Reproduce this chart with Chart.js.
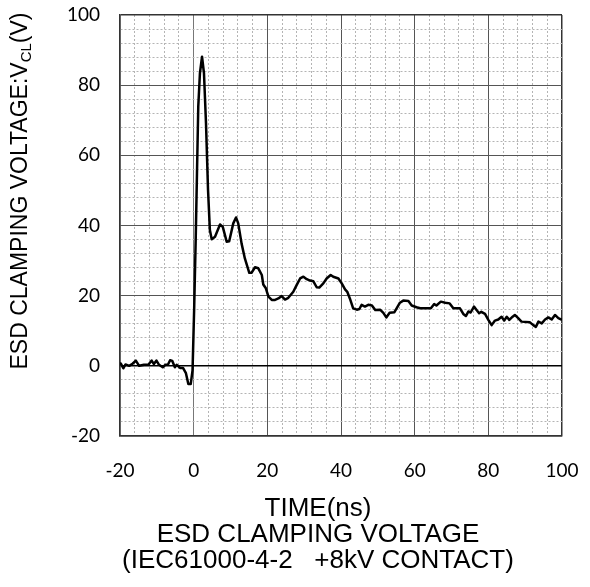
<!DOCTYPE html>
<html>
<head>
<meta charset="utf-8">
<script src="https://cdn.jsdelivr.net/npm/chart.js@4.4.1/dist/chart.umd.min.js"></script>
<style>
html,body{margin:0;padding:0;background:#fff;}
#wrap{width:590px;height:587px;}
</style>
</head>
<body>
<div id="wrap"><canvas id="chart"></canvas></div>
<script>
// time (ns) and clamping voltage (V)
const timeNs=[
-20.0,-19.8,-19.1,-18.5,-17.5,-16.6,-15.7,-14.8,-13.5,-12.3,-11.4,-10.8,-10.1,-9.4,-8.4,-7.7,-7.0,-6.4,-5.8,-5.1,-4.6,-3.7,-2.9,-2.1,-1.45,-0.8,-0.3,
0.15,0.55,0.9,1.25,1.7,2.27,2.8,3.35,3.9,4.4,4.9,5.8,7.15,7.9,8.96,9.65,10.75,11.5,12.1,13.0,13.9,15.1,15.7,16.65,17.55,18.5,18.9,19.6,
20.3,21.2,22.1,23.0,23.9,24.8,25.7,27.05,27.95,28.9,29.8,30.7,31.6,32.5,33.4,34.1,35.2,36.1,37.2,37.9,39.3,
40.2,41.1,41.7,42.4,43.3,44.3,45.0,45.6,46.5,47.4,48.4,49.3,50.6,51.5,52.3,53.2,54.5,55.1,56.0,56.9,58.3,59.2,
60.5,61.5,63.2,64.4,65.3,65.9,67.1,68.3,69.5,70.5,72.3,73.2,73.9,74.6,75.2,76.1,76.8,77.5,78.1,79.1,
80.0,80.9,81.8,82.7,83.6,84.3,85.0,85.7,86.6,87.2,88.1,89.0,91.3,92.2,92.9,93.6,94.5,95.4,96.3,97.2,98.1,99.0,100.0
];
const voltage=[
0.5,0.7,-0.7,0.4,0.0,0.6,1.5,0.0,0.3,0.3,1.5,0.5,1.5,0.3,-0.4,0.3,0.3,1.6,1.4,-0.4,0.3,-0.6,-0.6,-2.1,-5.2,-5.2,-1.2,
16.9,35.9,54.9,73.9,83.4,88.1,83.4,69.1,50.1,38.7,36.1,36.8,40.3,39.6,35.4,35.5,40.6,42.3,40.6,34.9,30.6,26.5,26.5,28.1,27.8,25.9,23.2,22.1,
19.7,18.8,18.8,19.2,19.9,18.9,19.4,21.1,23.0,24.9,25.4,24.7,24.3,24.1,22.4,22.3,23.5,24.9,25.9,25.4,24.9,
23.5,21.8,21.1,19.2,16.4,16.0,16.2,17.4,16.9,17.4,17.2,15.9,16.0,15.1,13.8,15.1,15.3,16.4,18.0,18.6,18.5,17.2,
16.7,16.4,16.4,16.4,17.6,17.2,18.3,18.0,17.8,16.4,16.4,14.8,14.2,15.5,15.2,16.9,15.9,15.0,15.4,14.8,
13.1,11.6,12.9,13.2,14.0,12.9,14.0,13.1,14.0,14.5,13.6,12.6,12.4,11.6,11.1,12.6,12.1,13.2,13.8,13.2,14.5,13.6,13.1
];

const xMin=-20,xMax=100,yMin=-20,yMax=100;
const minorStep=4,majorStep=20;
const xTitle=["TIME(ns)","ESD CLAMPING VOLTAGE","(IEC61000-4-2   +8kV CONTACT)"];
const yTitle=["ESD CLAMPING VOLTAGE:V","CL","(V)"];

let points=timeNs.map((t,i)=>({x:t,y:voltage[i]}));

function gridColor(ctx,min,max,isY){
if(!ctx.tick) return "#333";
let v=ctx.tick.value;
if(v===min||v===max) return "#333";
if(v===0&&isY) return "#000";
if(v===0) return "#777";
if(v%majorStep===0) return "#555";
return "#b4b4b4";
}
function gridWidth(ctx,min,max,isY){
if(!ctx.tick) return 1;
let v=ctx.tick.value;
if(v===min||v===max) return 1.5;
if(v===0&&isY) return 1.5;
return 1;
}
function gridDash(ctx){
if(!ctx.tick) return [];
return ctx.tick.value%majorStep===0?[]:[2,2];
}

// axis titles: y one has a subscript, x one sits left of the plot centre
const titlePlugin={
id:"titles",
afterDraw(chart){
let c=chart.ctx;
c.save();
c.fillStyle="#000";
let big="23px 'Liberation Sans', Arial, sans-serif";
let small="15px 'Liberation Sans', Arial, sans-serif";

c.font="26px 'Liberation Sans', Arial, sans-serif";
c.textAlign="center";
c.textBaseline="alphabetic";
xTitle.forEach((s,i)=>c.fillText(s,318,516+i*26));

c.textAlign="left";
c.textBaseline="middle";
c.font=big;
let w1=c.measureText(yTitle[0]).width;
let w3=c.measureText(yTitle[2]).width;
c.font=small;
let w2=c.measureText(yTitle[1]).width;
let total=w1+w2+w3;
c.translate(21,191);
c.rotate(-Math.PI/2);
let x=-total/2;
c.font=big;
c.fillText(yTitle[0],x,0);
x+=w1;
c.font=small;
c.fillText(yTitle[1],x,6);
x+=w2;
c.font=big;
c.fillText(yTitle[2],x,0);
c.restore();
}
};

new Chart(document.getElementById("chart"),{
type:"scatter",
data:{
datasets:[{
data:points,
showLine:true,
borderColor:"#000",
borderWidth:2.5,
pointRadius:0,
tension:0,
borderJoinStyle:"round"
}]
},
options:{
responsive:true,
maintainAspectRatio:false,
animation:false,
layout:{padding:{top:15,right:28,left:0,bottom:0}},
plugins:{legend:{display:false},tooltip:{enabled:false}},
scales:{
x:{
type:"linear",
min:xMin,max:xMax,
afterFit:s=>{s.height=151;s.paddingLeft=0;s.paddingRight=0;},
ticks:{
stepSize:minorStep,
autoSkip:false,
maxRotation:0,
padding:23,
color:"#000",
font:{family:"Lato, 'Open Sans', sans-serif",size:19},
callback:v=>v%majorStep===0?v:""
},
grid:{
drawTicks:false,
color:c=>gridColor(c,xMin,xMax,false),
lineWidth:c=>gridWidth(c,xMin,xMax,false)
},
border:{display:true,color:"#333",width:1.5,dash:gridDash}
},
y:{
type:"linear",
min:yMin,max:yMax,
afterFit:s=>{s.width=120;s.paddingTop=0;s.paddingBottom=0;},
ticks:{
stepSize:minorStep,
autoSkip:false,
padding:20,
color:"#000",
font:{family:"Lato, 'Open Sans', sans-serif",size:19},
callback:v=>v%majorStep===0?v:""
},
grid:{
drawTicks:false,
color:c=>gridColor(c,yMin,yMax,true),
lineWidth:c=>gridWidth(c,yMin,yMax,true)
},
border:{display:true,color:"#333",width:1.5,dash:gridDash}
}
}
},
plugins:[titlePlugin]
});
</script>
</body>
</html>
